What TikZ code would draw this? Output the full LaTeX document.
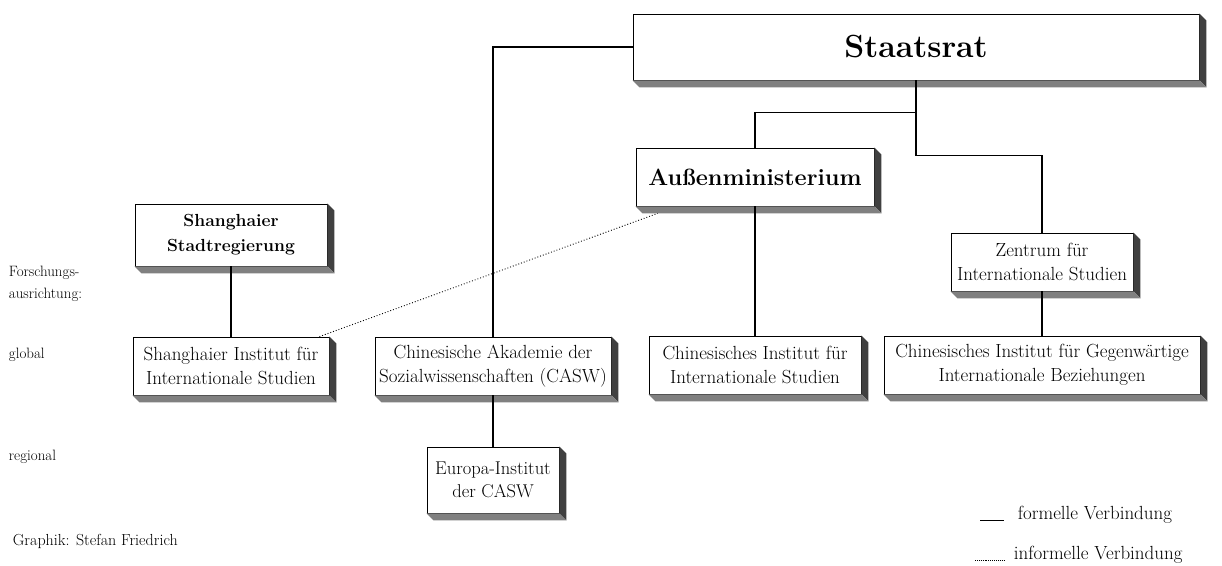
\documentclass[tikz,border=0pt]{standalone}
\usetikzlibrary{calc}
% extruded 3D edge under and right of a box
\newcommand{\extrude}[1]{%
  \fill[black!75] (#1.north east) -- ++(7,7) -- ($(#1.south east)+(7,7)$) -- (#1.south east) -- cycle;
  \fill[black!50] (#1.south west) -- ++(7,7) -- ($(#1.south east)+(7,7)$) -- (#1.south east) -- cycle;
}
\begin{document}
\begin{tikzpicture}[x=1pt, y=-1pt, line width=1.1pt,
  unit/.style={draw, fill=white, line width=0.8pt, align=center, inner sep=1pt,
    font=\fontsize{19}{24}\selectfont},
  head/.style={unit, font=\fontsize{17.5}{25}\selectfont\bfseries},
  side/.style={anchor=west, align=left, font=\fontsize{15}{22}\selectfont},
  key/.style={side, font=\fontsize{19}{22}\selectfont}]
  \useasboundingbox (0,0) rectangle (1222,565);
  \fill[white] (0,0) rectangle (1222,565);
  % top level
  \node[unit, font=\fontsize{32}{36}\selectfont\bfseries, minimum width=566, minimum height=66] (staat) at (916,47) {Staatsrat};
  \node[unit, font=\fontsize{23.5}{28}\selectfont\bfseries, minimum width=238, minimum height=58] (aussen) at (755,177) {Außenministerium};
  \node[head, minimum width=192, minimum height=62] (shstadt) at (231,235) {Shanghaier\\Stadtregierung};
  \node[unit, minimum width=182, minimum height=58] (zentrum) at (1042,262) {Zentrum für\\Internationale Studien};
  % institutes
  \node[unit, minimum width=196, minimum height=58] (shinst) at (231,366) {Shanghaier Institut für\\Internationale Studien};
  \node[unit, minimum width=236, minimum height=58] (casw) at (493,366) {Chinesische Akademie der\\Sozialwissenschaften (CASW)};
  \node[unit, minimum width=212, minimum height=58] (ciis) at (755,365) {Chinesisches Institut für\\Internationale Studien};
  \node[unit, minimum width=316, minimum height=58] (cicir) at (1042,365) {Chinesisches Institut für Gegenwärtige\\Internationale Beziehungen};
  \node[unit, font=\fontsize{18.5}{23}\selectfont, minimum width=132, minimum height=66] (europa) at (493,480) {Europa-Institut\\der CASW};
  \foreach \n in {staat,aussen,shstadt,zentrum,shinst,casw,ciis,cicir,europa} {\extrude{\n}}
  % formal links
  \draw (staat.south) -- ++(0,32) -| (aussen.north);
  \draw (staat.south) -- ++(0,75) -| (zentrum.north);
  \draw (staat.west) -| (casw.north);
  \draw (shstadt.south) -- (shinst.north);
  \draw (aussen.south) -- (ciis.north);
  \draw (zentrum.south) -- (cicir.north);
  \draw (casw.south) -- (europa.north);
  % informal link
  \draw[dotted, line width=0.9pt] ([xshift=-10pt]shinst.north east) -- ($(aussen.south west)+(22,7)$);
  % left column
  \node[side] (fa) at (5,284) {Forschungs-\\ausrichtung:};
  \node[side] (gl) at (5,355) {global};
  \node[side] (rg) at (5,457) {regional};
  \node[side, font=\fontsize{16}{20}\selectfont] (gr) at (9,541) {Graphik: Stefan Friedrich};
  % legend
  \coordinate (f1) at (980,520); \coordinate (f2) at (1004,520);
  \coordinate (i1) at (975,560); \coordinate (i2) at (1004,560);
  \draw[line width=0.9pt] (f1) -- (f2);
  \draw[densely dotted, line width=0.9pt] (i1) -- (i2);
  \node[key] (fv) at (1014,515) {formelle Verbindung};
  \node[key] (iv) at (1010,555) {informelle Verbindung};
\end{tikzpicture}
\end{document}
